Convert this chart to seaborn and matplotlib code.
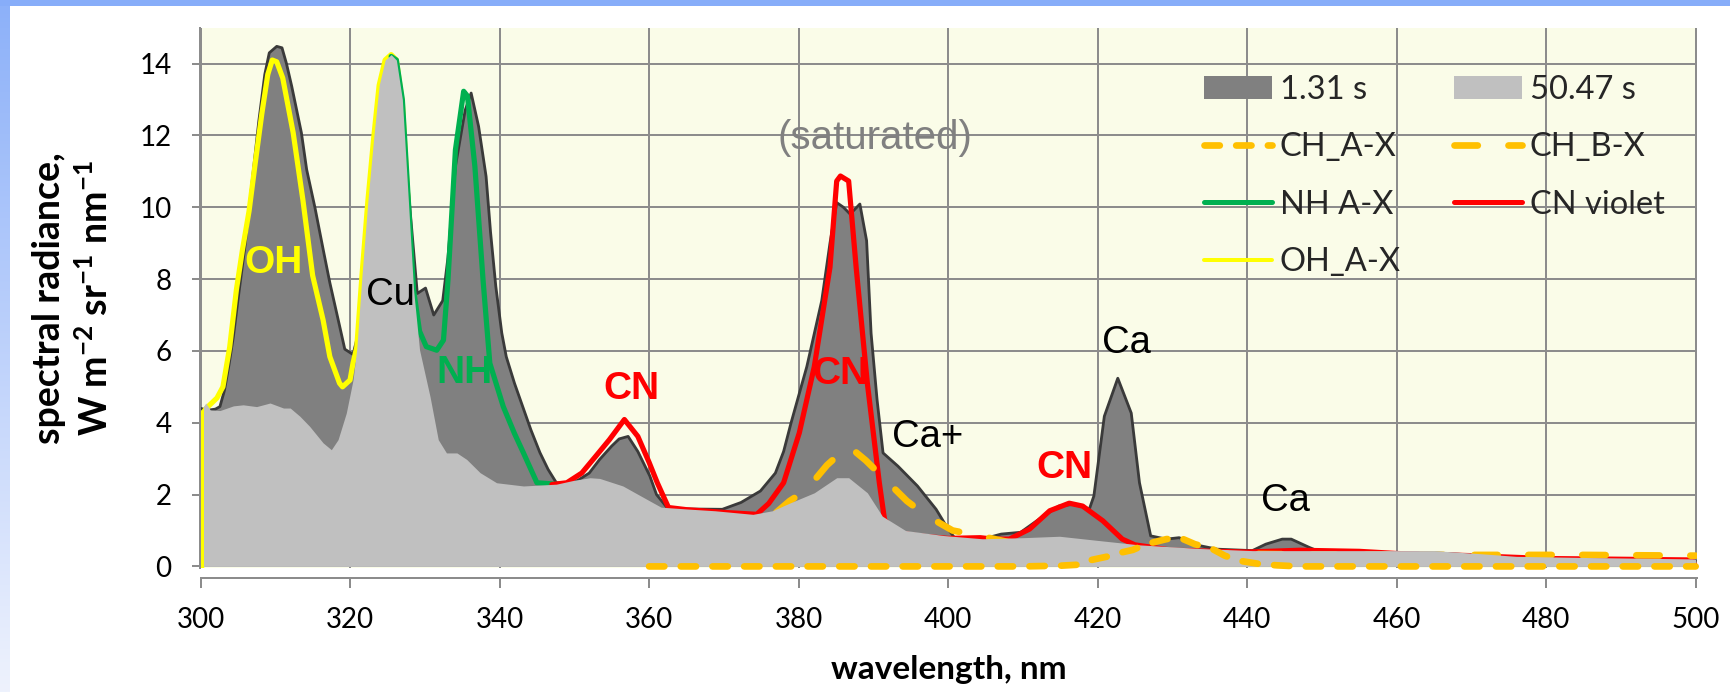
import numpy as np
import matplotlib
matplotlib.use("Agg")
import matplotlib.pyplot as plt
import seaborn as sns
from matplotlib.lines import Line2D
from matplotlib.patches import Patch, Rectangle

# ---------------- data ----------------
WL_131 = [300, 301, 302, 302.6, 303.2, 303.8, 304.4, 305, 306, 307, 307.8, 308.6, 309.2, 310.2,
          310.9, 311.5, 312.2, 313.5, 314.2, 315.3, 316.5, 317.3, 318.6, 319.3, 320.4, 321, 322,
          323, 324, 325, 325.5, 326, 327, 328, 329, 330.1, 331.2, 332.4, 333.1, 334.1, 335.4,
          336.2, 337.2, 338.2, 338.8, 339.5, 340.3, 340.9, 342, 343.1, 344.2, 345.4, 346.5,
          347.6, 349, 350.5, 352, 353.4, 355, 356, 357.2, 358.5, 360.1, 361, 362.4, 365, 369.8,
          372.3, 374.9, 376.9, 378, 379, 381.1, 383.1, 384.2, 385.1, 386, 386.9, 388.2, 389.1,
          389.7, 390.5, 391.3, 393.3, 395.9, 398.4, 400, 401, 404.6, 407.1, 409.7, 412.2, 414.8,
          416.8, 418.9, 419.5, 420.9, 422.7, 424.5, 425.6, 427.1, 429.2, 430.9, 433.6, 436,
          440.7, 442.5, 444.7, 445.9, 448.3, 449.6, 455, 460, 465, 471.5, 476, 484.8, 492, 500]
RAD_131 = [4.4, 4.35, 4.38, 4.45, 4.9, 5.6, 6.4, 7.4, 9.0, 10.9, 12.4, 13.7, 14.3, 14.48,
           14.44, 14.0, 13.37, 12.07, 11.05, 10.0, 8.73, 7.9, 6.7, 6.05, 5.9, 6.4, 9.0,
           11.5, 13.3, 14.0, 14.1, 13.8, 12.5, 10.0, 7.6, 7.75, 7.0, 7.4, 8.6, 11.14, 12.7,
           13.18, 12.25, 10.86, 9.3, 7.8, 6.5, 5.84, 5.1, 4.45, 3.8, 3.17, 2.7,
           2.33, 2.3, 2.4, 2.6, 2.98, 3.35, 3.55, 3.62, 3.2, 2.52, 2.0, 1.64, 1.6, 1.59,
           1.78, 2.1, 2.6, 3.2, 4.0, 5.56, 7.4, 9.0, 10.13, 10.0, 9.81, 10.09, 9.07,
           6.49, 4.64, 3.16, 2.79, 2.24, 1.59, 1.04, 0.76, 0.76, 0.9, 0.95, 1.32, 1.68,
           1.73, 1.6, 1.96, 4.18, 5.24, 4.27, 2.33, 0.85, 0.76, 0.8, 0.58, 0.48,
           0.44, 0.62, 0.76, 0.76, 0.53, 0.42, 0.38, 0.38, 0.38, 0.3, 0.24, 0.2, 0.18, 0.16]

WL_5047 = [300.4, 300.7, 301.3, 302.6, 304.4, 305.7, 307.5, 309.3, 311.1, 312, 313.3, 314.6,
           316.4, 317.5, 318.4, 319.5, 320.4, 320.9, 321.6, 322.4, 323.2, 323.9, 324.7, 325.5,
           326.2, 327, 327.8, 328.5, 329.3, 330.7, 331.8, 332.9, 334.3, 335.6, 337.4, 339.6,
           343.2, 347.6, 350, 352.1, 353.4, 356.5, 359, 361.6, 365, 368.8, 373.9, 376.5, 379,
           382.1, 385.1, 386.7, 389.2, 391.2, 394.3, 399.4, 404.6, 410, 414.9, 420.2, 425.6,
           433.6, 440.7, 451.4, 460.3, 465, 471.5, 476, 484.8, 492, 499.5, 500]
RAD_5047 = [4.45, 4.55, 4.36, 4.34, 4.47, 4.5, 4.45, 4.55, 4.41, 4.41, 4.18, 3.9,
            3.44, 3.25, 3.53, 4.27, 5.19, 6.05, 8.1, 10.2, 12.0, 13.4, 14.1, 14.25,
            14.1, 13.0, 10.2, 7.7, 6.03, 4.73, 3.53, 3.16, 3.16, 2.98, 2.61, 2.33,
            2.24, 2.29, 2.4, 2.47, 2.45, 2.24, 1.95, 1.65, 1.6, 1.55, 1.45, 1.55, 1.78,
            2.05, 2.47, 2.47, 2.05, 1.4, 1.0, 0.86, 0.77, 0.8, 0.84, 0.72, 0.6,
            0.5, 0.44, 0.44, 0.44, 0.44, 0.35, 0.28, 0.25, 0.23, 0.21, 0.2]

WL_OH = [300.2, 300.3, 300.8, 302.2, 303, 303.9, 304.8, 305.6, 306.5, 307.3, 308.2, 309, 309.6,
         310.2, 311, 312.4, 313.7, 315, 316.4, 317.3, 318.6, 319, 320, 320.4, 320.9, 321.6,
         322.4, 323.2, 323.9, 324.7, 325.5, 326.2, 327, 327.8]
RAD_OH = [0.0, 4.27, 4.41, 4.69, 5.0, 6.1, 7.7, 8.8, 9.9, 11.2, 12.6, 13.7, 14.1,
          14.05, 13.6, 12.07, 10.2, 8.1, 6.86, 5.84, 5.1, 5.0, 5.19, 5.66, 6.1, 8.1,
          10.2, 12.0, 13.4, 14.1, 14.25, 14.1, 12.9, 10.0]

WL_NH = [325.5, 326.2, 327, 327.8, 328.5, 329.3, 330.2, 331.6, 332.5, 333.1, 334.1, 335.2,
         335.7, 336.7, 337.8, 338.7, 340.5, 342, 343.2, 345, 346.9, 348]
RAD_NH = [14.2, 14.1, 13.0, 10.2, 7.7, 6.55, 6.12, 6.02, 6.3, 7.96, 11.6, 13.23,
          13.1, 11.14, 7.96, 5.66, 4.45, 3.7, 3.16, 2.33, 2.3, 2.28]

WL_CN = [347, 349, 351, 353, 354.7, 356.7, 358.5, 360, 361.1, 362.6, 365, 370.3, 374.4, 376,
         378, 380.1, 382.1, 384.2, 385.1, 385.6, 386.7, 387.7, 389.2, 390.8, 391.5, 393, 396,
         400, 404.3, 406, 408.2, 410.9, 413.6, 416.2, 418, 420.7, 423.3, 425, 430, 440, 447,
         455, 460, 470, 480, 490, 499.5, 500]
RAD_CN = [2.28, 2.33, 2.6, 3.1, 3.53, 4.09, 3.62, 2.9, 2.33, 1.64, 1.58, 1.5, 1.45, 1.75,
          2.33, 3.72, 5.56, 8.33, 10.73, 10.87, 10.73, 8.33, 5.1, 2.33, 1.3, 0.95, 0.85,
          0.78, 0.8, 0.76, 0.76, 1.04, 1.55, 1.76, 1.68, 1.27, 0.76, 0.6, 0.45, 0.4, 0.45,
          0.42, 0.36, 0.3, 0.22, 0.2, 0.18, 0.0]

WL_CHA = [360, 370, 380, 390, 400, 410, 415, 417.6, 418.5, 421.2, 423, 424.7, 426.5, 429.2,
          431, 433, 435.4, 437, 438.9, 441.6, 444, 447, 460, 480, 500]
RAD_CHA = [0, 0, 0, 0, 0, 0, 0.02, 0.05, 0.15, 0.27, 0.38, 0.46, 0.62, 0.76,
           0.8, 0.62, 0.48, 0.3, 0.16, 0.07, 0.03, 0, 0, 0, 0]

WL_CHB = [377, 378.8, 381, 383.8, 386, 386.8, 389, 391, 394.5, 397, 400.6, 403.8, 408, 415,
          425, 435, 450, 465, 477, 485, 492, 500]
RAD_CHB = [1.5, 1.82, 2.12, 2.82, 3.23, 3.33, 2.95, 2.54, 1.82, 1.43, 1.0, 0.87, 0.68, 0.55,
           0.42, 0.36, 0.33, 0.32, 0.32, 0.32, 0.31, 0.3]

X_TICKS = list(range(300, 501, 20))
Y_TICKS = list(range(0, 15, 2))

LABELS = [("OH", 309.8, 8.45, "#ffff00", "bold"),
          ("Cu", 325.4, 7.55, "black", "normal"),
          ("NH", 335.3, 5.38, "#00b050", "bold"),
          ("CN", 357.6, 4.94, "#ff0000", "bold"),
          ("CN", 385.6, 5.36, "#ff0000", "bold"),
          ("Ca+", 397.3, 3.6, "black", "normal"),
          ("CN", 415.5, 2.73, "#ff0000", "bold"),
          ("Ca", 423.8, 6.23, "black", "normal"),
          ("Ca", 445.1, 1.82, "black", "normal"),
          ("(saturated)", 390.2, 11.93, "#808080", "normal")]

# ---------------- style ----------------
sns.set_theme(style="white")
plt.rcParams['font.family'] = ['Lato', 'DejaVu Sans']
plt.rcParams['mathtext.fontset'] = 'custom'
plt.rcParams['mathtext.rm'] = 'Lato:bold'
plt.rcParams['mathtext.it'] = 'Lato:bold'
plt.rcParams['mathtext.bf'] = 'Lato:bold'
plt.rcParams['lines.scale_dashes'] = False

W, H, DPI = 1731, 692, 100


def px(v):
    return v * 72.0 / DPI


GRID = '#8c8c8c'
DARK = '#808080'
LIGHT = '#c0c0c0'
ORANGE = '#ffc000'
RED = '#ff0000'
GREEN = '#00b050'
YELLOW = '#ffff00'

fig = plt.figure(figsize=(W / DPI, H / DPI), dpi=DPI)
fig.patch.set_facecolor('white')

# blue frame (top band + left gradient band)
fig.add_artist(Rectangle((0, 1 - 6 / H), 1, 6 / H, transform=fig.transFigure,
                         facecolor='#87adf9', edgecolor='none', zorder=0))
axg = fig.add_axes([0, 0, 10 / W, 1 - 6 / H])
top_c = np.array([0x8d, 0xb1, 0xf9]) / 255
bot_c = np.array([0xee, 0xf2, 0xfd]) / 255
t = np.linspace(0, 1, 256)[:, None, None]
grad = top_c[None, None, :] * (1 - t) + bot_c[None, None, :] * t
axg.imshow(grad, aspect='auto', extent=(0, 1, 0, 1))
axg.axis('off')

ax = fig.add_axes([200.5 / W, 1 - 567.5 / H, (1696.8 - 200.5) / W, (567.5 - 27.7) / H])
ax.set_facecolor('#fafce8')

# areas
ax.fill_between(WL_131, RAD_131, 0, color=DARK, lw=0, zorder=1)
sns.lineplot(x=WL_131, y=RAD_131, color='#3a3a3a', linewidth=px(2.8), zorder=1.2,
             legend=False, ax=ax)
ax.lines[-1].set_solid_joinstyle('round')

# model lines (below the 50.47 s area)
for wl, rad, col, lw in [(WL_OH, RAD_OH, YELLOW, 5.2), (WL_NH, RAD_NH, GREEN, 5.2),
                         (WL_CN, RAD_CN, RED, 5.2)]:
    sns.lineplot(x=wl, y=rad, color=col, linewidth=px(lw), zorder=2, legend=False, ax=ax)
    ln = ax.lines[-1]
    ln.set_solid_joinstyle('round')
    ln.set_solid_capstyle('round')

CHA_DASH = (px(15.3), px(16.4))
CHB_DASH = (px(23.3), px(30.7))
sns.lineplot(x=WL_CHB, y=RAD_CHB, color=ORANGE, linewidth=px(6.7), zorder=2.1, legend=False, ax=ax)
ln = ax.lines[-1]
ln.set_dashes(CHB_DASH)
ln.set_dash_capstyle('round')

ax.fill_between(WL_5047, RAD_5047, 0, color=LIGHT, lw=0, zorder=3)

sns.lineplot(x=WL_CHA, y=RAD_CHA, color=ORANGE, linewidth=px(6.7), zorder=4, legend=False, ax=ax)
ln = ax.lines[-1]
ln.set_dashes(CHA_DASH)
ln.set_dash_capstyle('round')
ln.set_clip_on(False)

# annotations
for txt, x, y, col, wt in LABELS:
    if txt.startswith('('):
        fsz = 29
    elif wt == 'bold':
        fsz = 28
    else:
        fsz = 27.5
    ax.text(x, y, txt, color=col, fontsize=fsz, fontweight=wt,
            family=['Liberation Sans', 'DejaVu Sans'], ha='center', va='center', zorder=6)

# axes
ax.set_xlim(300, 500.15)
ax.set_ylim(-0.03, 15)
ax.set_xticks(X_TICKS)
ax.set_yticks(Y_TICKS)
ax.set_xticklabels([str(v) for v in X_TICKS])
ax.set_yticklabels([str(v) for v in Y_TICKS])
ax.grid(True, color=GRID, linewidth=px(2))
ax.set_axisbelow(True)
for s in ['top', 'right']:
    ax.spines[s].set_visible(False)
ax.spines['left'].set_color(GRID)
ax.spines['left'].set_linewidth(px(2))
ax.spines['bottom'].set_color(GRID)
ax.spines['bottom'].set_linewidth(px(2))
ax.spines['bottom'].set_position(('outward', px(10)))
ax.tick_params(axis='y', left=True, direction='out', length=px(8), width=px(2), color=GRID,
               pad=px(21), labelsize=20, labelcolor='black')
ax.tick_params(axis='x', bottom=True, direction='out', length=px(10), width=px(2), color=GRID,
               pad=px(19), labelsize=20, labelcolor='black')

ax.set_xlabel('wavelength, nm', fontsize=24, fontweight='bold', color='black')
ax.xaxis.set_label_coords(948.6 / W, 1 - 679 / H, transform=fig.transFigure)
ax.xaxis.label.set_va('baseline')

fig.text(60 / W, 1 - 298 / H, 'spectral radiance,', rotation=90, rotation_mode='anchor',
         ha='center', va='baseline', fontsize=27, fontweight='bold', color='black')
fig.text(108 / W, 1 - 298 / H, r'W m$^{-2}$ sr$^{-1}$ nm$^{-1}$', rotation=90,
         rotation_mode='anchor', ha='center', va='baseline', fontsize=27, fontweight='bold',
         color='black')

# legend (two columns, row-major order as in the reference)
h_dark = Patch(facecolor=DARK, edgecolor='none', label='1.31 s')
h_light = Patch(facecolor=LIGHT, edgecolor='none', label='50.47 s')
h_cha = Line2D([], [], color=ORANGE, lw=px(6.7), dashes=CHA_DASH, dash_capstyle='round',
               label='CH_A-X')
h_chb = Line2D([], [], color=ORANGE, lw=px(6.7), dashes=CHB_DASH, dash_capstyle='round',
               label='CH_B-X')
h_nh = Line2D([], [], color=GREEN, lw=px(5), solid_capstyle='round', label='NH A-X')
h_cn = Line2D([], [], color=RED, lw=px(5), solid_capstyle='round', label='CN violet')
h_oh = Line2D([], [], color=YELLOW, lw=px(4), solid_capstyle='round', label='OH_A-X')

FS = 23.5
fs_px = FS * DPI / 72.0
leg_kw = dict(loc='upper left', bbox_transform=fig.transFigure, frameon=False, fontsize=FS,
              handlelength=68 / fs_px, handleheight=23 / fs_px, handletextpad=8 / fs_px,
              labelspacing=0.84, borderpad=0, borderaxespad=0)
leg1 = ax.legend(handles=[h_dark, h_cha, h_nh, h_oh], bbox_to_anchor=(1203.7 / W, 1 - 75 / H),
                 **leg_kw)
leg1.set_zorder(10)
ax.add_artist(leg1)
leg2 = ax.legend(handles=[h_light, h_chb, h_cn], bbox_to_anchor=(1453.8 / W, 1 - 75 / H),
                 **leg_kw)
leg2.set_zorder(10)

fig.savefig('out.png', dpi=DPI, facecolor='white')
